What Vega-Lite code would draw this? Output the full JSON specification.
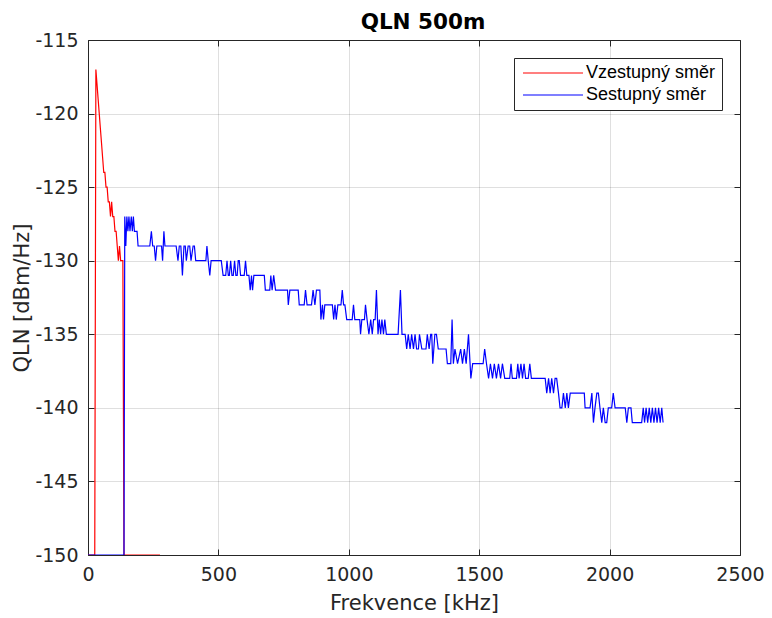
{
  "$schema": "https://vega.github.io/schema/vega-lite/v6.json",
  "autosize": "none",
  "width": 652,
  "height": 515,
  "padding": {"left": 88, "top": 40, "right": 32, "bottom": 63},
  "background": "white",
  "title": {"text": "QLN 500m", "font": "DejaVu Sans", "fontSize": 21.5, "fontWeight": "bold", "color": "#000000", "offset": -2, "anchor": "middle", "dx": 9},
  "config": {
    "view": {"stroke": null},
    "axis": {
      "domainColor": "#262626", "domainWidth": 1,
      "tickColor": "#262626", "tickSize": -6, "tickWidth": 1,
      "gridColor": "#262626", "gridOpacity": 0.15, "gridWidth": 1,
      "labelFont": "DejaVu Sans", "labelFontSize": 19, "labelColor": "#262626", "labelFlush": false, "labelOverlap": false,
      "labelExpr": "'' + datum.value",
      "titleFont": "DejaVu Sans", "titleFontSize": 21, "titleFontWeight": "normal", "titleColor": "#262626",
      "labelPadding": 16
    },
    "legend": {
      "orient": "top-right", "offset": 18, "fillColor": "white", "strokeColor": "#262626",
      "padding": 6, "symbolType": "M-5,0H5", "symbolSize": 144, "symbolStrokeWidth": 1.2, "symbolOffset": 24,
      "labelFont": "Liberation Sans", "labelFontSize": 18, "labelColor": "#000000", "rowPadding": 4, "labelOffset": 24
    }
  },
  "data": {"values": [
    {"s":"Vzestupný směr","f":0,"v":-150},{"s":"Vzestupný směr","f":25.9,"v":-150},{"s":"Vzestupný směr","f":30.2,"v":-117},{"s":"Vzestupný směr","f":34.5,"v":-118},{"s":"Vzestupný směr","f":38.8,"v":-119},{"s":"Vzestupný směr","f":43.1,"v":-120},{"s":"Vzestupný směr","f":47.4,"v":-121},{"s":"Vzestupný směr","f":51.8,"v":-122},{"s":"Vzestupný směr","f":56.1,"v":-123},{"s":"Vzestupný směr","f":60.4,"v":-124},{"s":"Vzestupný směr","f":64.7,"v":-124},{"s":"Vzestupný směr","f":69,"v":-125},{"s":"Vzestupný směr","f":73.3,"v":-125},{"s":"Vzestupný směr","f":77.6,"v":-126},{"s":"Vzestupný směr","f":81.9,"v":-126},{"s":"Vzestupný směr","f":86.3,"v":-127},{"s":"Vzestupný směr","f":90.6,"v":-126},{"s":"Vzestupný směr","f":94.9,"v":-127},{"s":"Vzestupný směr","f":99.2,"v":-127},{"s":"Vzestupný směr","f":103.5,"v":-128},{"s":"Vzestupný směr","f":107.8,"v":-128},{"s":"Vzestupný směr","f":112.1,"v":-129},{"s":"Vzestupný směr","f":116.4,"v":-130},{"s":"Vzestupný směr","f":120.8,"v":-129},{"s":"Vzestupný směr","f":125.1,"v":-130},{"s":"Vzestupný směr","f":133.7,"v":-130},{"s":"Vzestupný směr","f":138,"v":-150},{"s":"Vzestupný směr","f":276,"v":-150},
    {"s":"Sestupný směr","f":0,"v":-150},{"s":"Sestupný směr","f":138,"v":-150},{"s":"Sestupný směr","f":141,"v":-127},{"s":"Sestupný směr","f":145,"v":-129},{"s":"Sestupný směr","f":149,"v":-127},{"s":"Sestupný směr","f":153,"v":-128},{"s":"Sestupný směr","f":157,"v":-127},{"s":"Sestupný směr","f":161,"v":-128},{"s":"Sestupný směr","f":166,"v":-127},{"s":"Sestupný směr","f":170,"v":-128},{"s":"Sestupný směr","f":174,"v":-127},{"s":"Sestupný směr","f":178,"v":-128},{"s":"Sestupný směr","f":188,"v":-128},{"s":"Sestupný směr","f":192,"v":-129},{"s":"Sestupný směr","f":237,"v":-129},{"s":"Sestupný směr","f":243,"v":-128},{"s":"Sestupný směr","f":248,"v":-129},{"s":"Sestupný směr","f":254,"v":-129},{"s":"Sestupný směr","f":259,"v":-130},{"s":"Sestupný směr","f":264,"v":-129},{"s":"Sestupný směr","f":282,"v":-129},{"s":"Sestupný směr","f":286,"v":-130},{"s":"Sestupný směr","f":291,"v":-128},{"s":"Sestupný směr","f":295,"v":-129},{"s":"Sestupný směr","f":338,"v":-129},{"s":"Sestupný směr","f":345,"v":-130},{"s":"Sestupný směr","f":350,"v":-129},{"s":"Sestupný směr","f":356,"v":-129},{"s":"Sestupný směr","f":362,"v":-131},{"s":"Sestupný směr","f":368,"v":-129},{"s":"Sestupný směr","f":373,"v":-129},{"s":"Sestupný směr","f":377,"v":-130},{"s":"Sestupný směr","f":384,"v":-129},{"s":"Sestupný směr","f":390,"v":-129},{"s":"Sestupný směr","f":395,"v":-130},{"s":"Sestupný směr","f":403,"v":-129},{"s":"Sestupný směr","f":408,"v":-129},{"s":"Sestupný směr","f":413,"v":-130},{"s":"Sestupný směr","f":452,"v":-130},{"s":"Sestupný směr","f":456,"v":-129},{"s":"Sestupný směr","f":461,"v":-130},{"s":"Sestupný směr","f":467,"v":-131},{"s":"Sestupný směr","f":472,"v":-130},{"s":"Sestupný směr","f":511,"v":-130},{"s":"Sestupný směr","f":518,"v":-131},{"s":"Sestupný směr","f":528,"v":-131},{"s":"Sestupný směr","f":533,"v":-130},{"s":"Sestupný směr","f":538,"v":-131},{"s":"Sestupný směr","f":542,"v":-131},{"s":"Sestupný směr","f":547,"v":-130},{"s":"Sestupný směr","f":552,"v":-131},{"s":"Sestupný směr","f":557,"v":-131},{"s":"Sestupný směr","f":562,"v":-130},{"s":"Sestupný směr","f":567,"v":-131},{"s":"Sestupný směr","f":572,"v":-131},{"s":"Sestupný směr","f":576,"v":-130},{"s":"Sestupný směr","f":580,"v":-130},{"s":"Sestupný směr","f":585,"v":-131},{"s":"Sestupný směr","f":599,"v":-131},{"s":"Sestupný směr","f":604,"v":-130},{"s":"Sestupný směr","f":609,"v":-131},{"s":"Sestupný směr","f":617,"v":-131},{"s":"Sestupný směr","f":622,"v":-132},{"s":"Sestupný směr","f":627,"v":-131},{"s":"Sestupný směr","f":631,"v":-132},{"s":"Sestupný směr","f":636,"v":-131},{"s":"Sestupný směr","f":676,"v":-131},{"s":"Sestupný směr","f":680,"v":-132},{"s":"Sestupný směr","f":697,"v":-132},{"s":"Sestupný směr","f":701,"v":-131},{"s":"Sestupný směr","f":706,"v":-132},{"s":"Sestupný směr","f":712,"v":-131},{"s":"Sestupný směr","f":719,"v":-132},{"s":"Sestupný směr","f":765,"v":-132},{"s":"Sestupný směr","f":768,"v":-133},{"s":"Sestupný směr","f":774,"v":-132},{"s":"Sestupný směr","f":806,"v":-132},{"s":"Sestupný směr","f":810,"v":-133},{"s":"Sestupný směr","f":829,"v":-133},{"s":"Sestupný směr","f":834,"v":-132},{"s":"Sestupný směr","f":840,"v":-133},{"s":"Sestupný směr","f":857,"v":-133},{"s":"Sestupný směr","f":863,"v":-132},{"s":"Sestupný směr","f":870,"v":-133},{"s":"Sestupný směr","f":876,"v":-132},{"s":"Sestupný směr","f":889,"v":-132},{"s":"Sestupný směr","f":893,"v":-134},{"s":"Sestupný směr","f":899,"v":-133},{"s":"Sestupný směr","f":903,"v":-134},{"s":"Sestupný směr","f":908,"v":-133},{"s":"Sestupný směr","f":937,"v":-133},{"s":"Sestupný směr","f":942,"v":-134},{"s":"Sestupný směr","f":947,"v":-133},{"s":"Sestupný směr","f":952,"v":-134},{"s":"Sestupný směr","f":958,"v":-133},{"s":"Sestupný směr","f":970,"v":-133},{"s":"Sestupný směr","f":975,"v":-132},{"s":"Sestupný směr","f":980,"v":-133},{"s":"Sestupný směr","f":985,"v":-133},{"s":"Sestupný směr","f":992,"v":-134},{"s":"Sestupný směr","f":1013,"v":-134},{"s":"Sestupný směr","f":1018,"v":-133},{"s":"Sestupný směr","f":1023,"v":-134},{"s":"Sestupný směr","f":1042,"v":-134},{"s":"Sestupný směr","f":1045,"v":-135},{"s":"Sestupný směr","f":1050,"v":-134},{"s":"Sestupný směr","f":1060,"v":-134},{"s":"Sestupný směr","f":1064,"v":-133},{"s":"Sestupný směr","f":1070,"v":-134},{"s":"Sestupný směr","f":1077,"v":-135},{"s":"Sestupný směr","f":1084,"v":-134},{"s":"Sestupný směr","f":1090,"v":-135},{"s":"Sestupný směr","f":1095,"v":-134},{"s":"Sestupný směr","f":1101,"v":-134},{"s":"Sestupný směr","f":1106,"v":-132},{"s":"Sestupný směr","f":1112,"v":-135},{"s":"Sestupný směr","f":1117,"v":-134},{"s":"Sestupný směr","f":1122,"v":-135},{"s":"Sestupný směr","f":1127,"v":-134},{"s":"Sestupný směr","f":1133,"v":-135},{"s":"Sestupný směr","f":1138,"v":-134},{"s":"Sestupný směr","f":1144,"v":-135},{"s":"Sestupný směr","f":1189,"v":-135},{"s":"Sestupný směr","f":1198,"v":-132},{"s":"Sestupný směr","f":1204,"v":-135},{"s":"Sestupný směr","f":1216,"v":-135},{"s":"Sestupný směr","f":1222,"v":-136},{"s":"Sestupný směr","f":1228,"v":-135},{"s":"Sestupný směr","f":1235,"v":-136},{"s":"Sestupný směr","f":1241,"v":-135},{"s":"Sestupný směr","f":1248,"v":-136},{"s":"Sestupný směr","f":1254,"v":-135},{"s":"Sestupný směr","f":1260,"v":-136},{"s":"Sestupný směr","f":1267,"v":-136},{"s":"Sestupný směr","f":1271,"v":-135},{"s":"Sestupný směr","f":1280,"v":-136},{"s":"Sestupný směr","f":1296,"v":-136},{"s":"Sestupný směr","f":1301,"v":-135},{"s":"Sestupný směr","f":1308,"v":-136},{"s":"Sestupný směr","f":1314,"v":-135},{"s":"Sestupný směr","f":1318,"v":-135},{"s":"Sestupný směr","f":1322,"v":-137},{"s":"Sestupný směr","f":1330,"v":-135},{"s":"Sestupný směr","f":1336,"v":-135},{"s":"Sestupný směr","f":1343,"v":-136},{"s":"Sestupný směr","f":1373,"v":-136},{"s":"Sestupný směr","f":1378,"v":-137},{"s":"Sestupný směr","f":1391,"v":-137},{"s":"Sestupný směr","f":1396,"v":-134},{"s":"Sestupný směr","f":1401,"v":-137},{"s":"Sestupný směr","f":1407,"v":-136},{"s":"Sestupný směr","f":1417,"v":-137},{"s":"Sestupný směr","f":1429,"v":-136},{"s":"Sestupný směr","f":1436,"v":-137},{"s":"Sestupný směr","f":1443,"v":-136},{"s":"Sestupný směr","f":1450,"v":-137},{"s":"Sestupný směr","f":1459,"v":-135},{"s":"Sestupný směr","f":1468,"v":-138},{"s":"Sestupný směr","f":1475,"v":-137},{"s":"Sestupný směr","f":1515,"v":-137},{"s":"Sestupný směr","f":1521,"v":-136},{"s":"Sestupný směr","f":1528,"v":-137},{"s":"Sestupný směr","f":1536,"v":-138},{"s":"Sestupný směr","f":1543,"v":-137},{"s":"Sestupný směr","f":1551,"v":-138},{"s":"Sestupný směr","f":1558,"v":-137},{"s":"Sestupný směr","f":1566,"v":-138},{"s":"Sestupný směr","f":1574,"v":-137},{"s":"Sestupný směr","f":1582,"v":-138},{"s":"Sestupný směr","f":1589,"v":-137},{"s":"Sestupný směr","f":1598,"v":-138},{"s":"Sestupný směr","f":1617,"v":-138},{"s":"Sestupný směr","f":1622,"v":-137},{"s":"Sestupný směr","f":1627,"v":-138},{"s":"Sestupný směr","f":1643,"v":-138},{"s":"Sestupný směr","f":1648,"v":-137},{"s":"Sestupný směr","f":1653,"v":-138},{"s":"Sestupný směr","f":1660,"v":-137},{"s":"Sestupný směr","f":1666,"v":-138},{"s":"Sestupný směr","f":1672,"v":-137},{"s":"Sestupný směr","f":1678,"v":-138},{"s":"Sestupný směr","f":1688,"v":-138},{"s":"Sestupný směr","f":1694,"v":-137},{"s":"Sestupný směr","f":1700,"v":-138},{"s":"Sestupný směr","f":1753,"v":-138},{"s":"Sestupný směr","f":1759,"v":-139},{"s":"Sestupný směr","f":1766,"v":-138},{"s":"Sestupný směr","f":1772,"v":-139},{"s":"Sestupný směr","f":1778,"v":-138},{"s":"Sestupný směr","f":1785,"v":-139},{"s":"Sestupný směr","f":1791,"v":-138},{"s":"Sestupný směr","f":1797,"v":-138},{"s":"Sestupný směr","f":1804,"v":-139},{"s":"Sestupný směr","f":1810,"v":-140},{"s":"Sestupný směr","f":1817,"v":-140},{"s":"Sestupný směr","f":1823,"v":-139},{"s":"Sestupný směr","f":1830,"v":-140},{"s":"Sestupný směr","f":1836,"v":-139},{"s":"Sestupný směr","f":1842,"v":-140},{"s":"Sestupný směr","f":1849,"v":-139},{"s":"Sestupný směr","f":1903,"v":-139},{"s":"Sestupný směr","f":1906,"v":-140},{"s":"Sestupný směr","f":1925,"v":-140},{"s":"Sestupný směr","f":1932,"v":-139},{"s":"Sestupný směr","f":1938,"v":-141},{"s":"Sestupný směr","f":1944,"v":-140},{"s":"Sestupný směr","f":1951,"v":-139},{"s":"Sestupný směr","f":1957,"v":-139},{"s":"Sestupný směr","f":1963,"v":-140},{"s":"Sestupný směr","f":1970,"v":-141},{"s":"Sestupný směr","f":1976,"v":-140},{"s":"Sestupný směr","f":1983,"v":-141},{"s":"Sestupný směr","f":1989,"v":-141},{"s":"Sestupný směr","f":1995,"v":-140},{"s":"Sestupný směr","f":2008,"v":-140},{"s":"Sestupný směr","f":2014,"v":-139},{"s":"Sestupný směr","f":2021,"v":-140},{"s":"Sestupný směr","f":2060,"v":-140},{"s":"Sestupný směr","f":2066,"v":-141},{"s":"Sestupný směr","f":2072,"v":-140},{"s":"Sestupný směr","f":2082,"v":-140},{"s":"Sestupný směr","f":2087,"v":-141},{"s":"Sestupný směr","f":2123,"v":-141},{"s":"Sestupný směr","f":2129,"v":-140},{"s":"Sestupný směr","f":2134,"v":-141},{"s":"Sestupný směr","f":2140,"v":-140},{"s":"Sestupný směr","f":2146,"v":-141},{"s":"Sestupný směr","f":2152,"v":-140},{"s":"Sestupný směr","f":2158,"v":-141},{"s":"Sestupný směr","f":2164,"v":-140},{"s":"Sestupný směr","f":2170,"v":-141},{"s":"Sestupný směr","f":2176,"v":-140},{"s":"Sestupný směr","f":2182,"v":-141},{"s":"Sestupný směr","f":2188,"v":-140},{"s":"Sestupný směr","f":2194,"v":-141},{"s":"Sestupný směr","f":2200,"v":-140},{"s":"Sestupný směr","f":2205,"v":-141}
  ]},
  "layer": [
    {
      "mark": {"type": "line", "strokeWidth": 1.2, "clip": true},
      "encoding": {
        "x": {"field": "f", "type": "quantitative", "scale": {"domain": [0, 2500], "nice": false, "zero": false},
              "axis": {"title": "Frekvence [kHz]", "values": [0,500,1000,1500,2000,2500], "titlePadding": 8, "grid": true}},
        "y": {"field": "v", "type": "quantitative", "scale": {"domain": [-150, -115], "nice": false, "zero": false},
              "axis": {"title": "QLN [dBm/Hz]", "values": [-150,-145,-140,-135,-130,-125,-120,-115], "titlePadding": 2, "grid": true}},
        "color": {"field": "s", "type": "nominal",
                  "scale": {"domain": ["Vzestupný směr", "Sestupný směr"], "range": ["#ff0000", "#0000ff"]},
                  "legend": {"title": null}},
        "order": {"field": "f", "type": "quantitative"}
      }
    },
    {
      "mark": {"type": "line", "opacity": 0},
      "encoding": {
        "x": {"field": "f", "type": "quantitative", "scale": {"domain": [0, 2500], "nice": false, "zero": false},
              "axis": {"orient": "top", "title": null, "labels": false, "grid": false, "values": [0,500,1000,1500,2000,2500]}},
        "y": {"field": "v", "type": "quantitative", "scale": {"domain": [-150, -115], "nice": false, "zero": false},
              "axis": {"orient": "right", "title": null, "labels": false, "grid": false, "values": [-150,-145,-140,-135,-130,-125,-120,-115]}},
        "detail": {"field": "s", "type": "nominal"}
      }
    }
  ],
  "resolve": {"axis": {"x": "independent", "y": "independent"}}
}
